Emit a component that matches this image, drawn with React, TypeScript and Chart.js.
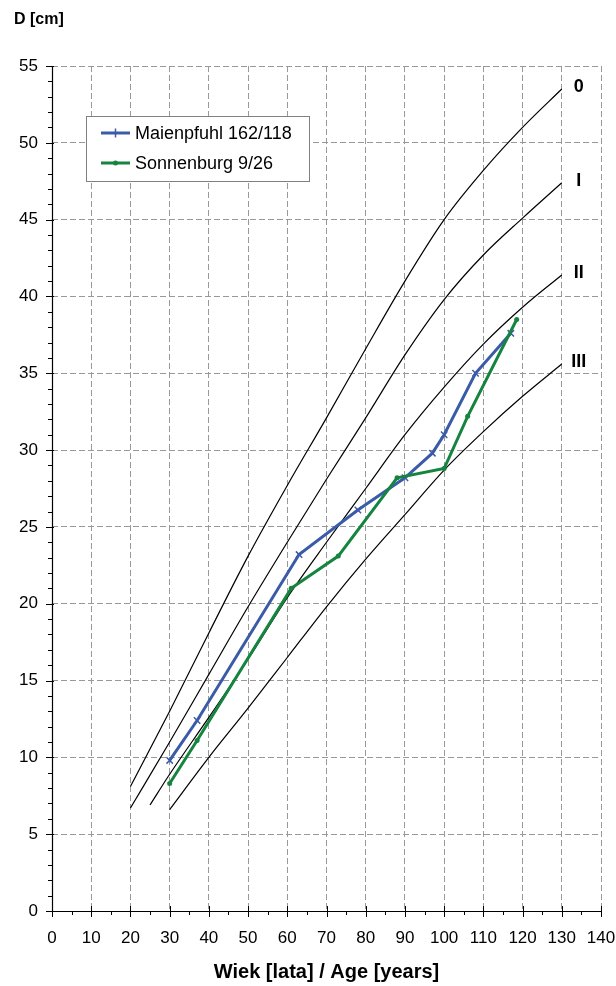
import React, { useEffect, useRef } from 'react';
import { Chart, registerables } from 'chart.js';

Chart.register(...registerables);

// ---- Site-class reference curves (age in years -> diameter in cm)
const curveAges0 = [20, 30, 40, 50, 60, 70, 80, 90, 100, 110, 120, 130];
const class0 = [8.1, 13.0, 18.1, 23.1, 27.7, 32.1, 36.6, 41.0, 45.0, 48.2, 51.0, 53.5];
const curveAgesI = [20, 30, 40, 50, 60, 70, 80, 90, 100, 110, 120, 130];
const classI = [6.7, 11.0, 15.4, 19.8, 24.0, 28.1, 32.1, 36.2, 39.8, 42.7, 45.1, 47.4];
const curveAgesII = [25, 30, 40, 50, 60, 70, 80, 90, 100, 110, 120, 130];
const classII = [6.9, 8.9, 12.6, 16.4, 20.4, 24.0, 27.5, 31.0, 34.1, 36.9, 39.3, 41.4];
const curveAgesIII = [30, 40, 50, 60, 70, 80, 90, 100, 110, 120, 130];
const classIII = [6.6, 10.0, 13.2, 16.5, 19.8, 22.9, 25.8, 28.7, 31.2, 33.5, 35.6];
const curveLabels = ['0', 'I', 'II', 'III'];

// ---- Measured series
const maienLabel = 'Maienpfuhl 162/118';
const maienAges = [30, 37, 63, 78, 90, 97, 100, 108, 117];
const maienD = [9.8, 12.4, 23.2, 26.1, 28.2, 29.8, 31.0, 35.0, 37.6];
const sonnenLabel = 'Sonnenburg 9/26';
const sonnenAges = [30, 37, 61, 73, 88, 100, 106, 118.5];
const sonnenD = [8.3, 11.1, 21.0, 23.1, 28.2, 28.8, 32.2, 38.5];

// ---- Axes
const xMin = 0, xMax = 140, xMajor = 10, xMinor = 5;
const yMin = 0, yMax = 55, yMajor = 5, yMinor = 1;
const xTitle = 'Wiek [lata] / Age [years]';
const yTitle = 'D [cm]';

const FONT = '"Liberation Sans", Arial, Helvetica, sans-serif';
const BLUE = '#3B5BA9';
const GREEN = '#15843E';

const toXY = (xs: number[], ys: number[]) => xs.map((x, i) => ({ x, y: ys[i] }));

const curveSets = [
  { ages: curveAges0, vals: class0, label: curveLabels[0] },
  { ages: curveAgesI, vals: classI, label: curveLabels[1] },
  { ages: curveAgesII, vals: classII, label: curveLabels[2] },
  { ages: curveAgesIII, vals: classIII, label: curveLabels[3] },
];

const decorPlugin = {
  id: 'decor',
  afterDraw(chart: any) {
    const ctx = chart.ctx;
    const xs = chart.scales.x;
    const ys = chart.scales.y;
    const ca = chart.chartArea;
    ctx.save();

    // axis lines
    ctx.strokeStyle = '#000';
    ctx.lineWidth = 1.2;
    ctx.setLineDash([]);
    ctx.beginPath();
    ctx.moveTo(Math.round(ca.left) + 0.5, ca.top);
    ctx.lineTo(Math.round(ca.left) + 0.5, ca.bottom);
    ctx.moveTo(ca.left, Math.round(ca.bottom) + 0.5);
    ctx.lineTo(ca.right, Math.round(ca.bottom) + 0.5);
    ctx.stroke();

    // x ticks (major crossing, minor outward)
    ctx.lineWidth = 1;
    ctx.beginPath();
    for (let v = xMin; v <= xMax; v += xMinor) {
      const px = Math.round(xs.getPixelForValue(v)) + 0.5;
      const major = v % xMajor === 0;
      ctx.moveTo(px, ca.bottom - (major ? 5 : 0));
      ctx.lineTo(px, ca.bottom + (major ? 6 : 4));
    }
    // y ticks
    for (let v = yMin; v <= yMax; v += yMinor) {
      const py = Math.round(ys.getPixelForValue(v)) + 0.5;
      const major = v % yMajor === 0;
      ctx.moveTo(ca.left - (major ? 6 : 4), py);
      ctx.lineTo(ca.left + (major ? 2 : 0), py);
    }
    ctx.stroke();

    // y title
    ctx.fillStyle = '#000';
    ctx.font = `bold 16px ${FONT}`;
    ctx.textAlign = 'left';
    ctx.textBaseline = 'middle';
    ctx.fillText(yTitle, 14, 20);

    // curve labels
    ctx.font = `bold 18px ${FONT}`;
    ctx.textAlign = 'center';
    curveSets.forEach((c) => {
      const n = c.ages.length - 1;
      const px = xs.getPixelForValue(c.ages[n]) + 17;
      const py = ys.getPixelForValue(c.vals[n]) - 2;
      ctx.fillText(c.label, px, py);
    });

    // legend
    const lx = ca.left + 34;
    const ly = ca.top + 50;
    const lw = 223;
    const lh = 65;
    ctx.fillStyle = '#fff';
    ctx.fillRect(lx, ly, lw, lh);
    ctx.strokeStyle = '#808080';
    ctx.lineWidth = 1;
    ctx.strokeRect(Math.round(lx) + 0.5, Math.round(ly) + 0.5, lw, lh);
    const entries = [
      { label: maienLabel, color: BLUE, marker: 'plus' },
      { label: sonnenLabel, color: GREEN, marker: 'dot' },
    ];
    entries.forEach((e, i) => {
      const y = ly + 17 + i * 30;
      const x0 = lx + 15;
      const x1 = lx + 44;
      ctx.strokeStyle = e.color;
      ctx.lineWidth = 3;
      ctx.beginPath();
      ctx.moveTo(x0, y);
      ctx.lineTo(x1, y);
      ctx.stroke();
      const mx = (x0 + x1) / 2;
      if (e.marker === 'plus') {
        ctx.lineWidth = 1.5;
        ctx.beginPath();
        ctx.moveTo(mx, y - 4.5);
        ctx.lineTo(mx, y + 4.5);
        ctx.stroke();
      } else {
        ctx.fillStyle = e.color;
        ctx.beginPath();
        ctx.arc(mx, y, 2.5, 0, Math.PI * 2);
        ctx.fill();
      }
      ctx.fillStyle = '#000';
      ctx.font = `18px ${FONT}`;
      ctx.textAlign = 'left';
      ctx.textBaseline = 'middle';
      ctx.fillText(e.label, lx + 49, y + 1);
    });

    ctx.restore();
  },
};

export default function App() {
  const canvasRef = useRef<HTMLCanvasElement | null>(null);

  useEffect(() => {
    const canvas = canvasRef.current;
    if (!canvas) return;

    const curveDatasets = curveSets.map((c) => ({
      label: 'Class ' + c.label,
      data: toXY(c.ages, c.vals),
      borderColor: '#000',
      borderWidth: 1.2,
      pointRadius: 0,
      cubicInterpolationMode: 'monotone' as const,
      fill: false,
      order: 2,
    }));

    const chart = new Chart(canvas, {
      type: 'line',
      data: {
        datasets: [
          {
            label: maienLabel,
            data: toXY(maienAges, maienD),
            borderColor: BLUE,
            backgroundColor: BLUE,
            borderWidth: 3,
            pointStyle: 'crossRot',
            pointRadius: 4.5,
            pointBorderWidth: 1.5,
            pointBorderColor: BLUE,
            tension: 0,
            fill: false,
            order: 1,
          },
          {
            label: sonnenLabel,
            data: toXY(sonnenAges, sonnenD),
            borderColor: GREEN,
            backgroundColor: GREEN,
            borderWidth: 3,
            pointStyle: 'circle',
            pointRadius: 2.5,
            pointBorderWidth: 0,
            pointBackgroundColor: GREEN,
            tension: 0,
            fill: false,
            order: 0,
          },
          ...curveDatasets,
        ],
      },
      options: {
        responsive: false,
        animation: false,
        devicePixelRatio: 1,
        layout: { padding: { top: 66, right: 15, left: 0, bottom: 0 } },
        plugins: {
          legend: { display: false },
          tooltip: { enabled: false },
          title: { display: false },
        },
        scales: {
          x: {
            type: 'linear',
            min: xMin,
            max: xMax,
            afterFit: (s: any) => {
              s.height = 75;
              s.paddingLeft = 0;
              s.paddingRight = 0;
            },
            ticks: {
              stepSize: xMajor,
              autoSkip: false,
              maxRotation: 0,
              color: '#000',
              padding: 17,
              font: { family: FONT, size: 17 },
            },
            grid: {
              color: '#999999',
              lineWidth: 1,
              drawTicks: false,
            },
            border: { display: false, dash: [6, 3] },
            title: {
              display: true,
              text: xTitle,
              color: '#000',
              font: { family: FONT, size: 20, weight: 'bold' },
              padding: { top: 0, bottom: 2 },
            },
          },
          y: {
            type: 'linear',
            min: yMin,
            max: yMax,
            afterFit: (s: any) => {
              s.width = 52;
              s.paddingTop = 0;
              s.paddingBottom = 0;
            },
            ticks: {
              stepSize: yMajor,
              autoSkip: false,
              color: '#000',
              padding: 14,
              font: { family: FONT, size: 17 },
            },
            grid: {
              color: '#999999',
              lineWidth: 1,
              drawTicks: false,
            },
            border: { display: false, dash: [6, 3] },
          },
        },
      },
      plugins: [decorPlugin],
    });

    return () => chart.destroy();
  }, []);

  return (
    <div style={{ position: 'absolute', left: 0, top: 0, width: 616, height: 986, background: '#fff' }}>
      <canvas ref={canvasRef} width={616} height={986} style={{ display: 'block' }} />
    </div>
  );
}
